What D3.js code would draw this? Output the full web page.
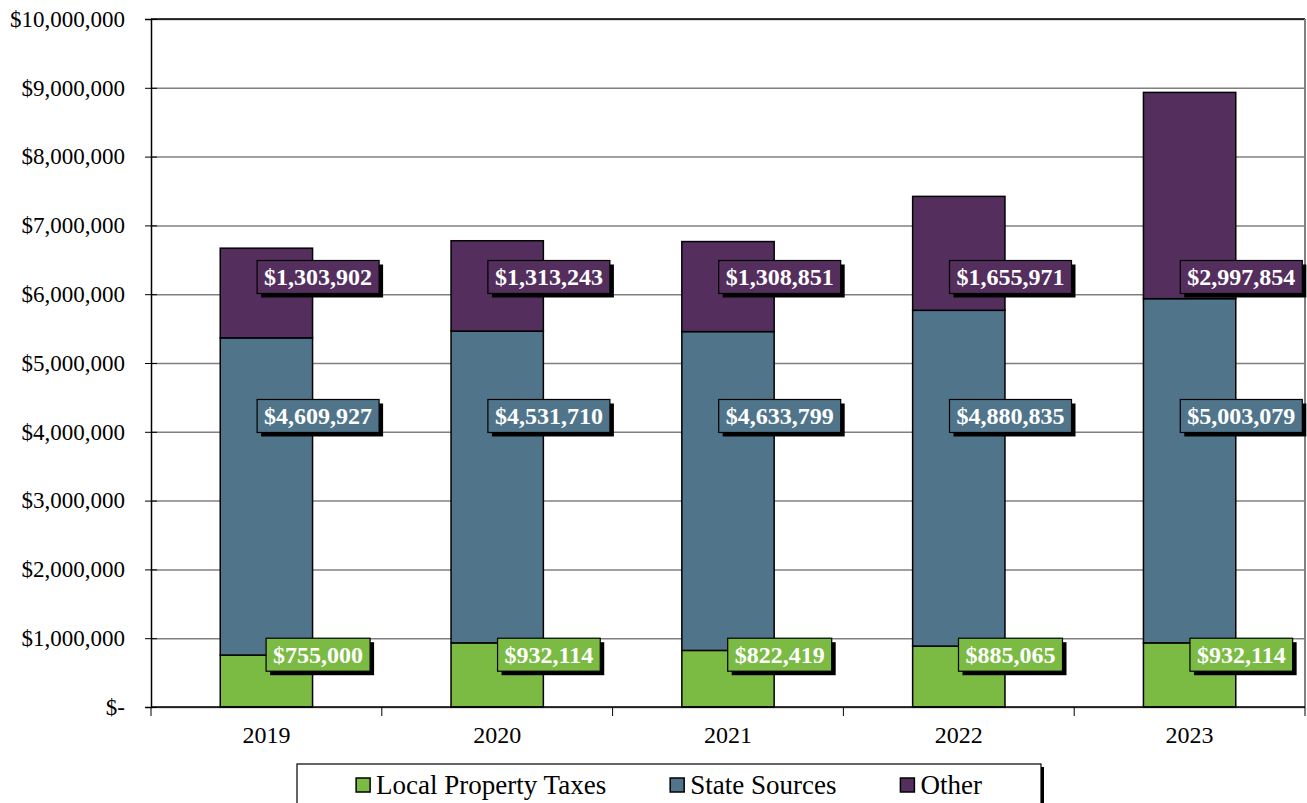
<!DOCTYPE html>
<html>
<head>
<meta charset="utf-8">
<script src="https://cdn.jsdelivr.net/npm/d3@7"></script>
<style>
  body { margin: 0; background: #fff; }
  svg { display: block; font-family: "Liberation Serif", "Times New Roman", serif; }
</style>
</head>
<body>
<div id="view"></div>
<script>
// chart data
const years = ['2019', '2020', '2021', '2022', '2023'];
const localTaxes = [755000, 932114, 822419, 885065, 932114];
const stateSources = [4609927, 4531710, 4633799, 4880835, 5003079];
const other = [1303902, 1313243, 1308851, 1655971, 2997854];
const seriesNames = ['Local Property Taxes', 'State Sources', 'Other'];
const yTicks = [0, 1000000, 2000000, 3000000, 4000000, 5000000, 6000000, 7000000, 8000000, 9000000, 10000000];

const colors = ['#7bbb44', '#50758b', '#542f5e'];
// value where each series' labels sit
const labelLevels = [760000, 4230000, 6250000];

const width = 1307, height = 803;
const margin = { top: 19, right: 2, bottom: 96, left: 151 };
const innerW = width - margin.left - margin.right;
const innerH = height - margin.top - margin.bottom;

const svg = d3.select('#view').append('svg')
  .attr('width', width)
  .attr('height', height);

const g = svg.append('g').attr('transform', `translate(${margin.left},${margin.top})`);

const x = d3.scaleBand().domain(years).range([0, innerW]).paddingInner(0.6).paddingOuter(0.3);
const y = d3.scaleLinear().domain([0, 10000000]).range([innerH, 0]);

const rows = years.map((yr, i) => ({ year: yr, local: localTaxes[i], state: stateSources[i], other: other[i] }));
const stack = d3.stack().keys(['local', 'state', 'other'])(rows);

// gridlines
g.append('g')
  .attr('class', 'grid')
  .call(d3.axisLeft(y).tickValues(yTicks).tickSize(-innerW).tickFormat(''))
  .call(s => s.select('.domain').remove())
  .call(s => s.selectAll('line').attr('stroke', '#808080').attr('stroke-width', 1.5));

// top and right border
g.append('line').attr('x1', 0).attr('x2', innerW).attr('y1', 0).attr('y2', 0).attr('stroke', '#000').attr('stroke-width', 1.5);
g.append('line').attr('x1', innerW).attr('x2', innerW).attr('y1', 0).attr('y2', innerH).attr('stroke', '#808080').attr('stroke-width', 2);

// bars
g.selectAll('.layer')
  .data(stack)
  .enter().append('g')
  .attr('class', 'layer')
  .attr('fill', (d, i) => colors[i])
  .selectAll('rect')
  .data(d => d)
  .enter().append('rect')
  .attr('x', d => x(d.data.year))
  .attr('y', d => y(d[1]))
  .attr('width', x.bandwidth())
  .attr('height', d => y(d[0]) - y(d[1]))
  .attr('stroke', '#000')
  .attr('stroke-width', 1.5);

// y axis
const yAxis = g.append('g')
  .call(d3.axisLeft(y).tickValues(yTicks).tickSize(6).tickPadding(20)
    .tickFormat(v => v === 0 ? '$-' : '$' + d3.format(',')(v)));
yAxis.selectAll('text').attr('font-size', 23).attr('fill', '#000').style('font-family', '"Liberation Serif", serif');
yAxis.select('.domain').attr('stroke', '#000').attr('stroke-width', 1.5);
g.append('g')
  .call(d3.axisRight(y).tickValues(yTicks).tickSize(6).tickFormat(''))
  .call(s => s.select('.domain').remove())
  .call(s => s.selectAll('line').attr('stroke', '#000'));

// x axis with category boundary ticks
const edges = years.map(d => x(d) - x.step() * 0.3).concat([innerW]);
g.append('line').attr('x1', 0).attr('x2', innerW).attr('y1', innerH).attr('y2', innerH).attr('stroke', '#000').attr('stroke-width', 1.5);
g.selectAll('.xtick').data(edges).enter().append('line')
  .attr('x1', d => d).attr('x2', d => d)
  .attr('y1', innerH).attr('y2', innerH + 9)
  .attr('stroke', '#000');
g.selectAll('.xlabel').data(years).enter().append('text')
  .attr('x', d => x(d) + x.bandwidth() / 2)
  .attr('y', innerH + 36)
  .attr('text-anchor', 'middle')
  .attr('font-size', 24)
  .text(d => d);

// value labels
const fmt = v => '$' + d3.format(',')(v);
stack.forEach((layer, si) => {
  layer.forEach(d => {
    const val = d[1] - d[0];
    const cx = x(d.data.year) + x.bandwidth() / 2 + x.bandwidth() * 0.56;
    const cy = y(labelLevels[si]);
    const lg = g.append('g');
    const shadow = lg.append('rect').attr('fill', '#000');
    const box = lg.append('rect').attr('fill', colors[si]).attr('stroke', '#000').attr('stroke-width', 1.2);
    const t = lg.append('text')
      .attr('x', cx).attr('y', cy)
      .attr('dy', '0.35em')
      .attr('text-anchor', 'middle')
      .attr('font-size', 24)
      .attr('font-weight', 'bold')
      .attr('fill', '#fff')
      .text(fmt(val));
    const w = t.node().getComputedTextLength() + 14;
    const h = 33;
    box.attr('x', cx - w / 2).attr('y', cy - h / 2).attr('width', w).attr('height', h);
    shadow.attr('x', cx - w / 2 + 4).attr('y', cy - h / 2 + 4).attr('width', w).attr('height', h);
  });
});

// legend
const legend = svg.append('g').attr('transform', 'translate(297,764)');
legend.append('rect').attr('x', 3).attr('y', 3).attr('width', 744).attr('height', 60).attr('fill', '#000');
legend.append('rect').attr('x', 0).attr('y', 0).attr('width', 744).attr('height', 60).attr('fill', '#fff').attr('stroke', '#000').attr('stroke-width', 1.2);
const items = legend.selectAll('.item').data(seriesNames).enter().append('g');
items.append('rect')
  .attr('width', 14).attr('height', 14)
  .attr('y', 14)
  .attr('fill', (d, i) => colors[i])
  .attr('stroke', '#000').attr('stroke-width', 1.5);
items.append('text')
  .attr('x', 20).attr('y', 21)
  .attr('dy', '0.35em')
  .attr('font-size', 27)
  .text(d => d);
let pos = 0;
const widths = [];
items.each(function () {
  widths.push(20 + d3.select(this).select('text').node().getComputedTextLength());
});
const totalW = d3.sum(widths) + 64 * (widths.length - 1);
pos = (744 - totalW) / 2;
items.attr('transform', (d, i) => {
  const p = pos;
  pos += widths[i] + 64;
  return `translate(${p},0)`;
});
</script>
</body>
</html>
